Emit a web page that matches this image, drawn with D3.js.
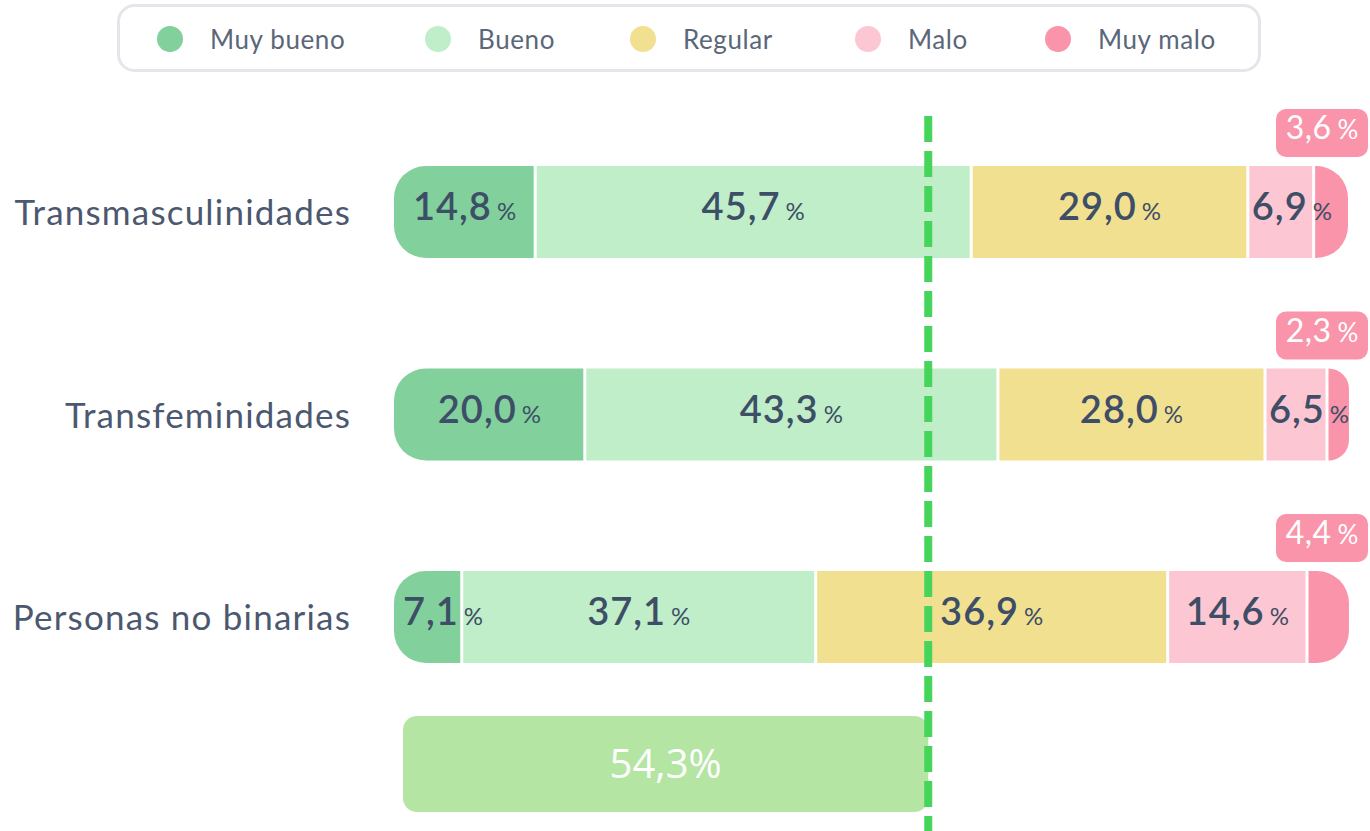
<!DOCTYPE html>
<html>
<head>
<meta charset="utf-8">
<script src="https://cdn.jsdelivr.net/npm/d3@7"></script>
<style>
  body { margin: 0; background: #fff; }
  svg { display: block; }
</style>
</head>
<body>
<script>
// datos
const categories = ["Transmasculinidades", "Transfeminidades", "Personas no binarias"]
const levels = ["Muy bueno", "Bueno", "Regular", "Malo", "Muy malo"]
const levelColors = ["#82d09c", "#bfeec9", "#f2e091", "#fdc6d3", "#f994ab"]
const muyBueno = [14.8, 20.0, 7.1]
const bueno = [45.7, 43.3, 37.1]
const regular = [29.0, 28.0, 36.9]
const malo = [6.9, 6.5, 14.6]
const muyMalo = [3.6, 2.3, 4.4]
const summaryValue = 54.3
const refLine = 56.0

const series = [muyBueno, bueno, regular, malo, muyMalo]
const fmt = v => v.toFixed(1).replace(".", ",")

const width = 1370, height = 831
const svg = d3.select("body").append("svg").attr("width", width).attr("height", height)

let x = d3.scaleLinear().domain([0, 100]).range([394, 1348])
let y = d3.scalePoint().domain(categories).range([212, 617])
const barH = 92, rad = 32, textColor = "#3d4e66"

// rect with optional rounded left / right ends
function roundedRect(x0, y0, w, h, rl, rr) {
    let p = d3.path()
    p.moveTo(x0 + rl, y0)
    p.lineTo(x0 + w - rr, y0)
    if (rr) p.arcTo(x0 + w, y0, x0 + w, y0 + rr, rr)
    p.lineTo(x0 + w, y0 + h - rr)
    if (rr) p.arcTo(x0 + w, y0 + h, x0 + w - rr, y0 + h, rr)
    p.lineTo(x0 + rl, y0 + h)
    if (rl) p.arcTo(x0, y0 + h, x0, y0 + h - rl, rl)
    p.lineTo(x0, y0 + rl)
    if (rl) p.arcTo(x0, y0, x0 + rl, y0, rl)
    p.closePath()
    return p.toString()
}

// legend
svg.append("rect").attr("x", 118.5).attr("y", 5.5).attr("width", 1141).attr("height", 65)
    .attr("rx", 16).attr("fill", "#fff").attr("stroke", "#e3e7eb").attr("stroke-width", 3)
let legendX = [170, 438, 643, 868, 1058]
let legend = svg.selectAll(".legend").data(levels).enter().append("g")
    .attr("transform", (d, i) => "translate(" + legendX[i] + ",39)")
legend.append("circle").attr("r", 13).attr("fill", (d, i) => levelColors[i])
legend.append("text").attr("x", 40).attr("dy", "0.37em").text(d => d)
    .style("font-family", "Lato").style("font-size", "26px").style("letter-spacing", "0.6px")
    .attr("fill", "#5b6779")

// category labels
svg.selectAll(".cat").data(categories).enter().append("text")
    .attr("x", 351).attr("y", d => y(d)).attr("dy", "0.38em").attr("text-anchor", "end")
    .text(d => d).style("font-family", "Lato").style("font-size", "35px").style("letter-spacing", "1.2px")
    .attr("fill", "#4b5870")

// stacked bars
let barLayer = svg.append("g"), labelLayer = svg.append("g")
categories.forEach((cat, ci) => {
    let top = y(cat) - barH / 2
    let acc = 0
    series.forEach((s, li) => {
        let v = s[ci]
        let x0 = x(acc), x1 = x(acc + v)
        acc += v
        let first = li === 0, last = li === series.length - 1
        let left = first ? x0 : x0 + 1.5
        let right = last ? x1 : x1 - 1.5
        barLayer.append("path")
            .attr("d", roundedRect(left, top, right - left, barH, first ? rad : 0, last ? Math.min(rad, right - left) : 0))
            .attr("fill", levelColors[li])
        if (last) {
            // badge above the last segment
            let bw = 92, bh = 48
            let bx = x(100) + 20 - bw
            labelLayer.append("rect").attr("x", bx).attr("y", top - 9 - bh).attr("width", bw).attr("height", bh)
                .attr("rx", 10).attr("fill", levelColors[li])
            let t = labelLayer.append("text").attr("x", bx + bw / 2).attr("y", top - 9 - bh / 2).attr("dy", "0.38em")
                .attr("text-anchor", "middle").attr("fill", "#fff").style("font-family", "Lato")
            t.append("tspan").text(fmt(v)).style("font-size", "32px").style("letter-spacing", "0.5px")
            t.append("tspan").text("%").attr("dx", 6).style("font-size", "26px")
        } else {
            let t = labelLayer.append("text").attr("x", (x0 + x1) / 2).attr("y", y(cat) + 2).attr("dy", "0.4em")
                .attr("text-anchor", "middle").attr("fill", textColor).style("font-family", "Lato")
            t.append("tspan").text(fmt(v)).style("font-size", "38px").style("font-weight", 600)
                .style("letter-spacing", "1px")
            t.append("tspan").text("%").attr("dx", 5).style("font-size", "24px")
            // labels that do not fit start at the segment's left edge
            let tw = t.node().getComputedTextLength()
            if (tw > x1 - x0 - 4) {
                t.attr("text-anchor", "start").attr("x", x0 + (first ? 9 : 4))
            }
        }
    })
})

// summary bar
svg.append("rect").attr("x", x(0) + 9).attr("y", 716).attr("width", x(refLine) - x(0) - 9).attr("height", 96)
    .attr("rx", 14).attr("fill", "#b4e5a2")
svg.append("text").attr("x", (x(0) + 9 + x(refLine)) / 2).attr("y", 764).attr("dy", "0.36em")
    .attr("text-anchor", "middle").attr("fill", "#fff").text(fmt(summaryValue) + "%")
    .style("font-family", "Open Sans").style("font-size", "40px")

// dashed reference line
svg.append("line").attr("x1", x(refLine)).attr("x2", x(refLine)).attr("y1", 116).attr("y2", height)
    .attr("stroke", "#47d45a").attr("stroke-width", 8).attr("stroke-dasharray", "26 9")
</script>
</body>
</html>
